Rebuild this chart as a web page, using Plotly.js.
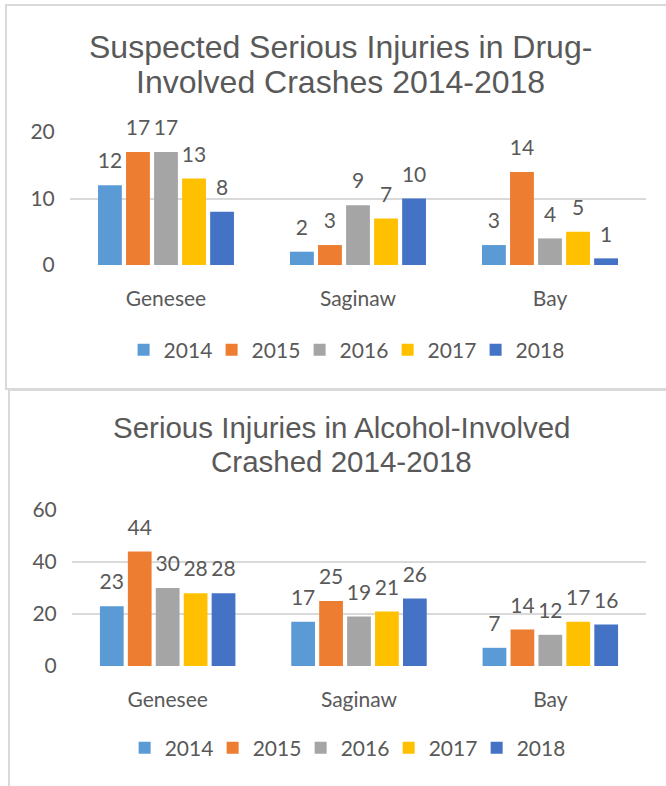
<!DOCTYPE html>
<html>
<head>
<meta charset="utf-8">
<script src="https://cdn.plot.ly/plotly-3.0.1.min.js"></script>
<style>
  body { margin: 0; overflow: hidden; background: #fff; width: 666px; height: 786px; position: relative; }
  .box { position: absolute; border: 2px solid #d9d9d9; background: #fff; }
  #drug { left: 5px; top: 4px; width: 680px; height: 382px; }
  #alcohol { left: 8px; top: 389px; width: 680px; height: 400px; }
</style>
</head>
<body>
<div id="drug" class="box"></div>
<div id="alcohol" class="box"></div>
<script>
// counties and years
var counties = ['Genesee', 'Saginaw', 'Bay'];
var years = ['2014', '2015', '2016', '2017', '2018'];
var colors = ['#5B9BD5', '#ED7D31', '#A5A5A5', '#FFC000', '#4472C4'];

// drug-involved, one array per year (Genesee, Saginaw, Bay)
var drug2014 = [12, 2, 3];
var drug2015 = [17, 3, 14];
var drug2016 = [17, 9, 4];
var drug2017 = [13, 7, 5];
var drug2018 = [8, 10, 1];

// alcohol-involved
var alc2014 = [23, 17, 7];
var alc2015 = [44, 25, 14];
var alc2016 = [30, 19, 12];
var alc2017 = [28, 21, 17];
var alc2018 = [28, 26, 16];

var drugSeries = [drug2014, drug2015, drug2016, drug2017, drug2018];
var alcSeries = [alc2014, alc2015, alc2016, alc2017, alc2018];

var drugTitle = ['Suspected Serious Injuries in Drug-', 'Involved Crashes 2014-2018'];
var alcTitle = ['Serious Injuries in Alcohol-Involved', 'Crashed 2014-2018'];

var txt = '#595959';
var lblFont = 'Lato, "Open Sans", sans-serif';
var ttlFont = '"Liberation Sans", Arial, sans-serif';

function makeTraces(series) {
  return series.map(function (vals, i) {
    return {
      type: 'bar',
      name: years[i],
      x: counties,
      y: vals,
      marker: { color: colors[i] },
      // small second line lifts the label off the bar like Excel does
      text: vals.map(function (v) { return '<span style="font-size:21px">' + v + '</span><br> '; }),
      textposition: 'outside',
      constraintext: 'none',
      cliponaxis: false,
      textfont: { family: lblFont, size: 9, color: txt },
      hoverinfo: 'x+y+name'
    };
  });
}

function makeLayout(title, ty, tsize, ymax, dtick, m, legY) {
  return {
    width: 680,
    height: m.h,
    margin: { l: m.l, r: m.r, t: m.t, b: m.b },
    paper_bgcolor: '#fff',
    plot_bgcolor: '#fff',
    barmode: 'group',
    bargap: 0.27,
    bargroupgap: 0.15,
    showlegend: true,
    annotations: title.map(function (line, k) {
      return {
        text: line, showarrow: false,
        xref: 'paper', yref: 'paper',
        x: 0.47, y: ty[k], xanchor: 'center', yanchor: 'middle',
        font: { family: ttlFont, size: tsize, color: txt }
      };
    }),
    xaxis: {
      showgrid: false,
      showline: false,
      ticks: 'outside',
      ticklen: 15,
      tickcolor: 'rgba(0,0,0,0)',
      tickfont: { family: lblFont, size: 21, color: txt },
      fixedrange: true
    },
    yaxis: {
      range: [0, ymax],
      dtick: dtick,
      showgrid: true,
      gridcolor: '#d9d9d9',
      gridwidth: 2,
      zeroline: false,
      showline: false,
      ticks: 'outside',
      ticklen: 10,
      tickcolor: 'rgba(0,0,0,0)',
      tickfont: { family: lblFont, size: 21, color: txt },
      fixedrange: true
    },
    legend: {
      orientation: 'h',
      x: 0.475, xanchor: 'center',
      y: legY, yanchor: 'middle',
      entrywidth: 43,
      entrywidthmode: 'pixels',
      font: { family: lblFont, size: 21, color: txt },
      traceorder: 'normal'
    }
  };
}

Plotly.newPlot('drug', makeTraces(drugSeries),
  makeLayout(drugTitle, [1.639, 1.376], 32, 20, 10, { h: 382, l: 63, r: 41, t: 126, b: 123 }, -0.64),
  { displayModeBar: false });

Plotly.newPlot('alcohol', makeTraces(alcSeries),
  makeLayout(alcTitle, [1.532, 1.308], 29.5, 60, 20, { h: 400, l: 62, r: 44, t: 119, b: 125 }, -0.526),
  { displayModeBar: false });
</script>
</body>
</html>
